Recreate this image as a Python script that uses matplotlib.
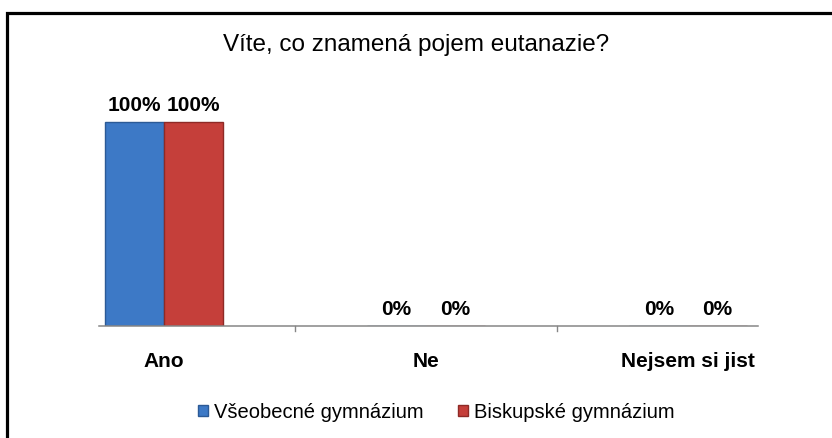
import numpy as np
import matplotlib.pyplot as plt
from matplotlib.patches import Rectangle, Patch

plt.rcParams['font.family'] = ['Liberation Sans', 'DejaVu Sans']

categories = ['Ano', 'Ne', 'Nejsem si jist']
series = ['Všeobecné gymnázium', 'Biskupské gymnázium']
values = {
    'Všeobecné gymnázium': [100, 0, 0],
    'Biskupské gymnázium': [100, 0, 0],
}
labels = {
    'Všeobecné gymnázium': ['100%', '0%', '0%'],
    'Biskupské gymnázium': ['100%', '0%', '0%'],
}
title = 'Víte, co znamená pojem eutanazie?'

colors = {'Všeobecné gymnázium': '#3D79C6', 'Biskupské gymnázium': '#C53F3A'}
edges = {'Všeobecné gymnázium': '#2C5A96', 'Biskupské gymnázium': '#8E2A26'}

W, H = 832, 439
fig = plt.figure(figsize=(W / 100, H / 100), dpi=100)

# black frame, cut off at right and bottom like the original
fig.patches.append(Rectangle((6.5 / W, -0.1), 1.2, (H - 13.5) / H + 0.1,
                             transform=fig.transFigure, fill=False,
                             edgecolor='black', linewidth=2.3))

ax = fig.add_axes([99 / W, (H - 327) / H, (758 - 99) / W, 227 / H])
ax.set_xlim(-0.248, 2.267)
ax.set_ylim(0, 100 * 227 / 204)
for s in ax.spines.values():
    s.set_visible(False)
ax.set_xticks([])
ax.set_yticks([])
ax.patch.set_alpha(0)

x = np.arange(len(categories))
bw = 0.224
for i, name in enumerate(series):
    pos = x + (i - 0.5) * bw
    ax.bar(pos, values[name], width=bw, color=colors[name],
           edgecolor=edges[name], linewidth=1.0, label=name, zorder=2)
    for px, v, lab in zip(pos, values[name], labels[name]):
        ax.annotate(lab, (px, v), xytext=(0, 12.5), textcoords='offset points',
                    ha='center', va='center', fontsize=15, fontweight='bold')

# category axis line with ticks between categories
ax.axhline(0, color='#868686', linewidth=1.1, zorder=3, clip_on=False)
for b in x[:-1] + 0.5:
    ax.plot([b, b], [0, -0.022], color='#868686', linewidth=1.0,
            transform=ax.get_xaxis_transform(), clip_on=False)
for c, lab in zip(x, categories):
    ax.annotate(lab, (c, 0), xytext=(0, -25), textcoords='offset points',
                ha='center', va='center', fontsize=15, fontweight='bold')

fig.text(0.5, (H - 45) / H, title, ha='center', va='center', fontsize=17.5)

handles = [Patch(facecolor=colors[n], edgecolor=edges[n]) for n in series]
fig.legend(handles, series, loc='center', bbox_to_anchor=(436 / W, (H - 413) / H),
           ncol=2, frameon=False, fontsize=14.5, handlelength=0.5,
           handleheight=0.5, handletextpad=0.3, columnspacing=1.7,
           borderpad=0, borderaxespad=0)

fig.savefig('out.png', dpi=100)
